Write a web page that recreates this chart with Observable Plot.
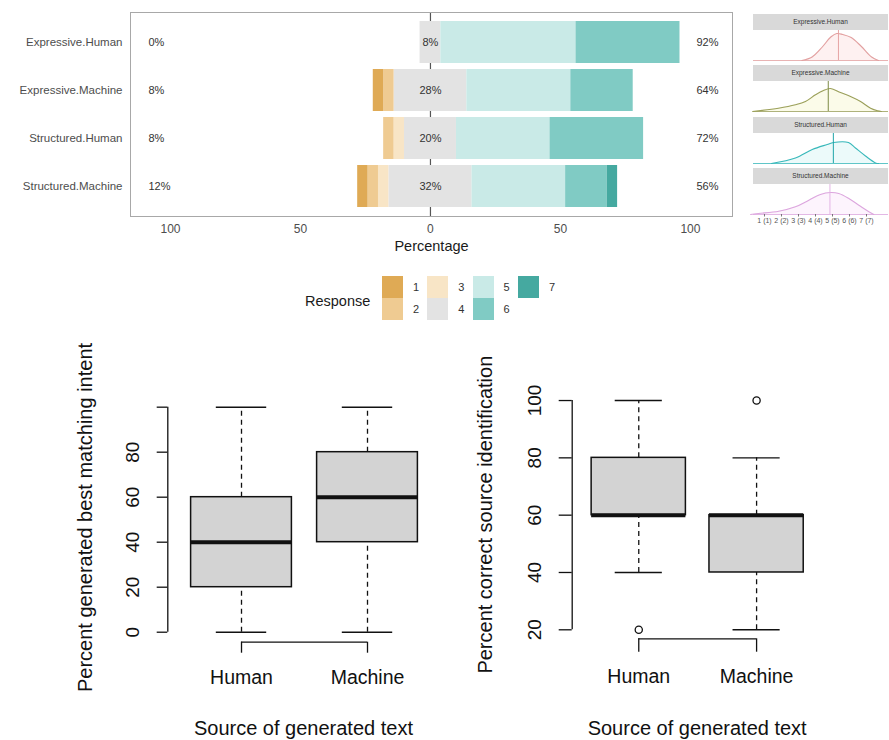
<!DOCTYPE html>
<html><head><meta charset="utf-8">
<script src="https://cdn.jsdelivr.net/npm/d3@7"></script>
<script src="https://cdn.jsdelivr.net/npm/@observablehq/plot@0.6"></script>
<style>
body{margin:0;background:#fff;font-family:"Liberation Sans",Arial,Helvetica,sans-serif;}
#root{position:relative;width:889px;height:740px;overflow:hidden;background:#fff;}
</style></head><body><div id="root"></div>
<script>
// ---------- Likert data (percent of respondents per response level) ----------
const groups = ["Expressive.Human", "Expressive.Machine", "Structured.Human", "Structured.Machine"];
const levels = ["1", "2", "3", "4", "5", "6", "7"];
const levelColors = ["#DFAA55", "#EFCB92", "#F8E5C6", "#E3E3E3", "#C9EAE7", "#80CBC4", "#45A9A0"];
const r1 = [0, 4, 0, 4];
const r2 = [0, 4, 4, 4];
const r3 = [0, 0, 4, 4];
const r4 = [8, 28, 20, 32];
const r5 = [52, 40, 36, 36];
const r6 = [40, 24, 36, 16];
const r7 = [0, 0, 0, 4];
const likertTicks = [-100, -50, 0, 50, 100];

// ---------- Density panels ----------
const ehDensX = [3.2, 3.8, 4.4, 4.9, 5.25, 5.6, 6.1, 6.7, 7.3, 7.7];
const ehDensY = [0, 0.07, 0.27, 0.47, 0.54, 0.52, 0.46, 0.28, 0.07, 0];
const emDensX = [0.3, 1.82, 2.82, 3.41, 4.0, 4.47, 4.88, 5.47, 6.06, 6.65, 7.24, 7.65, 7.88];
const emDensY = [0, 0.066, 0.134, 0.2, 0.334, 0.42, 0.46, 0.38, 0.3, 0.2, 0.066, 0.014, 0];
const shDensX = [1.41, 2.82, 3.81, 4.69, 5.06, 5.94, 6.35, 6.94, 7.53, 7.71];
const shDensY = [0, 0.11, 0.28, 0.38, 0.42, 0.42, 0.31, 0.15, 0.012, 0];
const smDensX = [0.18, 0.65, 1.84, 2.82, 3.61, 4.29, 4.88, 5.37, 5.96, 6.55, 7.14, 7.43];
const smDensY = [0, 0.02, 0.066, 0.154, 0.286, 0.4, 0.44, 0.42, 0.32, 0.186, 0.054, 0];
const densCenter = [5.35, 4.75, 5.05, 4.85];
const densTicks = [1, 2, 3, 4, 5, 6, 7];
const densTickLabels = ["1 (1)", "2 (2)", "3 (3)", "4 (4)", "5 (5)", "6 (6)", "7 (7)"];

// ---------- Box plot data ----------
const boxGroups = ["Human", "Machine"];
const intentMin = [0, 0], intentQ1 = [20, 40], intentMed = [40, 60], intentQ3 = [60, 80], intentMax = [100, 100];
const intentTicks = [0, 20, 40, 60, 80, 100];
const intentTickLabels = ["0", "20", "40", "60", "80", ""];
const sourceMin = [40, 20], sourceQ1 = [60, 40], sourceMed = [60, 60], sourceQ3 = [80, 60], sourceMax = [100, 80];
const sourceOutGroup = ["Human", "Machine"];
const sourceOutValue = [20, 100];
const sourceTicks = [20, 40, 60, 80, 100];
const sourceTickLabels = ["20", "40", "60", "80", "100"];

const FONT = '"Liberation Sans", Arial, Helvetica, sans-serif';
const root = document.getElementById("root");
function place(node, left, top) {
  node.style.position = "absolute";
  node.style.left = left + "px";
  node.style.top = top + "px";
  root.appendChild(node);
  return node;
}

// ---------- Main diverging likert chart ----------
const responses = [r1, r2, r3, r4, r5, r6, r7];
const segs = [];
groups.forEach((g, i) => {
  const n = r4[i];
  segs.push({group: g, level: "4", x1: -n / 2, x2: n / 2});
  let left = -n / 2;
  for (const k of [2, 1, 0]) {
    const v = responses[k][i];
    if (v > 0) segs.push({group: g, level: levels[k], x1: left - v, x2: left});
    left -= v;
  }
  let right = n / 2;
  for (const k of [4, 5, 6]) {
    const v = responses[k][i];
    if (v > 0) segs.push({group: g, level: levels[k], x1: right, x2: right + v});
    right += v;
  }
});
const summary = groups.map((g, i) => ({
  group: g,
  low: r1[i] + r2[i] + r3[i],
  neutral: r4[i],
  high: r5[i] + r6[i] + r7[i]
}));

const main = Plot.plot({
  width: 745, height: 256,
  marginLeft: 130, marginRight: 13, marginTop: 12, marginBottom: 40,
  x: {domain: [-115.4, 116.2]},
  y: {domain: groups, paddingInner: 0.12, paddingOuter: 0.15},
  color: {domain: levels, range: levelColors},
  style: {fontFamily: FONT, fontSize: "11.5px", color: "#4D4D4D", background: "transparent"},
  marks: [
    Plot.ruleX([0], {stroke: "#555", strokeWidth: 1.2}),
    Plot.barX(segs, {x1: "x1", x2: "x2", y: "group", fill: "level"}),
    Plot.frame({stroke: "#A8A8A8"}),
    Plot.axisY({tickSize: 0, tickPadding: 8, label: null, fontSize: 11.5}),
    Plot.axisX({ticks: likertTicks, tickSize: 0, tickPadding: 8, tickFormat: d => Math.abs(d), label: null, fontSize: 12}),
    Plot.text(["Percentage"], {text: d => d, frameAnchor: "bottom", lineAnchor: "middle", dy: 30, fontSize: 14.5, fill: "#1a1a1a"}),
    Plot.text(summary, {y: "group", text: d => d.low + "%", frameAnchor: "left", dx: 18, textAnchor: "start", fontSize: 11, fill: "#333"}),
    Plot.text(summary, {y: "group", x: 0, text: d => d.neutral + "%", fontSize: 11, fill: "#333"}),
    Plot.text(summary, {y: "group", text: d => d.high + "%", frameAnchor: "right", dx: -14, textAnchor: "end", fontSize: 11, fill: "#333"})
  ]
});
place(main, 0, 0);

// ---------- Legend ----------
const legendTitle = document.createElement("div");
legendTitle.textContent = "Response";
legendTitle.style.cssText = `font:14.5px ${FONT};color:#1a1a1a;line-height:18px;`;
place(legendTitle, 305, 292);
levels.forEach((lv, k) => {
  const col = Math.floor(k / 2), row = k % 2;
  const sw = document.createElement("div");
  sw.style.cssText = `width:21px;height:22px;background:${levelColors[k]};`;
  place(sw, 382 + col * 45.3, 276 + row * 22);
  const lab = document.createElement("div");
  lab.textContent = lv;
  lab.style.cssText = `font:11px ${FONT};color:#333;line-height:14px;`;
  place(lab, 382 + col * 45.3 + 31, 280 + row * 22);
});

// ---------- Density panels ----------
const densPanels = [
  {name: groups[0], xs: ehDensX, ys: ehDensY, c: densCenter[0], stroke: "#E2A0A0", fill: "#F8A0A0", vline: "#E6A3A3"},
  {name: groups[1], xs: emDensX, ys: emDensY, c: densCenter[1], stroke: "#9A9F5A", fill: "#E6E66A", vline: "#7C8A44"},
  {name: groups[2], xs: shDensX, ys: shDensY, c: densCenter[2], stroke: "#38B8BA", fill: "#7FDDE0", vline: "#1FA4A8"},
  {name: groups[3], xs: smDensX, ys: smDensY, c: densCenter[3], stroke: "#DCA6DE", fill: "#F0B8F2", vline: "#E3B5E5"}
];
densPanels.forEach((p, i) => {
  const stripTop = 14 + 51.3 * i;
  const strip = document.createElement("div");
  strip.textContent = p.name;
  strip.style.cssText = `width:135px;height:16px;background:#D9D9D9;font:6.5px ${FONT};color:#333;text-align:center;line-height:16px;`;
  place(strip, 753, stripTop);
  const last = i === densPanels.length - 1;
  const pts = p.xs.map((x, j) => ({x, y: p.ys[j]}));
  const marks = [
    Plot.areaY(pts, {x: "x", y: "y", curve: "catmull-rom", fill: p.fill, fillOpacity: 0.15}),
    Plot.ruleY([0], {stroke: p.stroke, strokeOpacity: 0.8}),
    Plot.lineY(pts, {x: "x", y: "y", curve: "catmull-rom", stroke: p.stroke, strokeWidth: 1.1}),
    Plot.ruleX([p.c], {stroke: p.vline, strokeWidth: 1})
  ];
  if (last) marks.push(Plot.axisX({ticks: densTicks, tickSize: 2.5, tickPadding: 1.5, tickFormat: d => densTickLabels[densTicks.indexOf(d)], fontSize: 7, label: null, stroke: "#777"}));
  const svg = Plot.plot({
    width: 144, height: 30 + (last ? 14 : 2),
    marginLeft: 8, marginRight: 1, marginTop: 0, marginBottom: last ? 14 : 2,
    x: {domain: [0.353, 8.294], ...(last ? {} : {axis: null})},
    y: {domain: [0, 0.6], axis: null},
    style: {fontFamily: FONT, color: "#555", background: "transparent", overflow: "visible"},
    marks
  });
  place(svg, 745, stripTop + 16);
});

// ---------- Box plots ----------
function boxPlot(cfg) {
  const rows = boxGroups.map((g, i) => ({pos: i + 1, min: cfg.mins[i], q1: cfg.q1s[i], med: cfg.meds[i], q3: cfg.q3s[i], max: cfg.maxs[i]}));
  const outs = cfg.outGroups.map((g, j) => ({pos: boxGroups.indexOf(g) + 1, v: cfg.outVals[j]}));
  const ink = "#111";
  return Plot.plot({
    width: cfg.width, height: cfg.height,
    marginLeft: cfg.marginLeft, marginRight: cfg.marginRight, marginTop: cfg.marginTop, marginBottom: cfg.marginBottom,
    x: {type: "linear", domain: cfg.xDomain},
    y: {domain: cfg.yDomain},
    style: {fontFamily: FONT, fontSize: "19.5px", color: ink, background: "transparent", overflow: "visible"},
    marks: [
      Plot.ruleX(rows, {x: "pos", y1: "q3", y2: "max", stroke: ink, strokeWidth: 1.3, strokeDasharray: "5,4"}),
      Plot.ruleX(rows, {x: "pos", y1: "min", y2: "q1", stroke: ink, strokeWidth: 1.3, strokeDasharray: "5,4"}),
      Plot.ruleY(rows, {y: "max", x1: d => d.pos - 0.2, x2: d => d.pos + 0.2, stroke: ink, strokeWidth: 1.4}),
      Plot.ruleY(rows, {y: "min", x1: d => d.pos - 0.2, x2: d => d.pos + 0.2, stroke: ink, strokeWidth: 1.4}),
      Plot.rect(rows, {x1: d => d.pos - 0.4, x2: d => d.pos + 0.4, y1: "q1", y2: "q3", fill: "#D3D3D3", stroke: ink, strokeWidth: 1.5}),
      Plot.ruleY(rows, {y: "med", x1: d => d.pos - 0.4, x2: d => d.pos + 0.4, stroke: ink, strokeWidth: 4}),
      Plot.dot(outs, {x: "pos", y: "v", r: 3.6, stroke: ink, fill: "white", strokeWidth: 1.3}),
      Plot.ruleX([cfg.xDomain[0]], {y1: cfg.yTicks[0], y2: cfg.yTicks[cfg.yTicks.length - 1], stroke: ink, strokeWidth: 1.3}),
      Plot.ruleY([cfg.yDomain[0]], {x1: 1, x2: boxGroups.length, stroke: ink, strokeWidth: 1.3}),
      Plot.axisY({ticks: cfg.yTicks, tickSize: cfg.yTickSize, tickRotate: -90, tickPadding: cfg.yTickPadding,
        tickFormat: d => cfg.yTickLabels[cfg.yTicks.indexOf(d)], label: null, fontSize: 19, strokeWidth: 1.3}),
      Plot.axisX({ticks: boxGroups.map((g, i) => i + 1), tickSize: cfg.xTickSize, tickPadding: 17,
        tickFormat: d => boxGroups[d - 1], label: null, fontSize: 19.5, strokeWidth: 1.3}),
      Plot.text([cfg.yTitle], {text: d => d, frameAnchor: "left", textAnchor: "middle", lineAnchor: "middle", rotate: -90, dx: cfg.yTitleDx, dy: cfg.yTitleDy, fontSize: 20, fill: ink}),
      Plot.text([cfg.xTitle], {text: d => d, frameAnchor: "bottom", textAnchor: "middle", lineAnchor: "middle", dx: cfg.xTitleDx, dy: cfg.xTitleDy, fontSize: 20, fill: ink})
    ]
  });
}

const leftBox = boxPlot({
  width: 380, height: 410, marginLeft: 107.3, marginRight: 10, marginTop: 67, marginBottom: 98.3,
  xDomain: [0.415, 2.5], yDomain: [-4.44, 104.3],
  mins: intentMin, q1s: intentQ1, meds: intentMed, q3s: intentQ3, maxs: intentMax,
  outGroups: [], outVals: [],
  yTicks: intentTicks, yTickLabels: intentTickLabels, yTickSize: 10.6, yTickPadding: 18, xTickSize: 11,
  yTitle: "Percent generated best matching intent", yTitleDx: -82.3, yTitleDy: -2.4,
  xTitle: "Source of generated text", xTitleDx: 4.3, xTitleDy: 86.3
});
place(leftBox, 60, 330);

const rightBox = boxPlot({
  width: 419, height: 410, marginLeft: 101.7, marginRight: 74, marginTop: 60, marginBottom: 101.7,
  xDomain: [0.435, 2.5], yDomain: [16.86, 103.5],
  mins: sourceMin, q1s: sourceQ1, meds: sourceMed, q3s: sourceQ3, maxs: sourceMax,
  outGroups: sourceOutGroup, outVals: sourceOutValue,
  yTicks: sourceTicks, yTickLabels: sourceTickLabels, yTickSize: 13, yTickPadding: 18, xTickSize: 13.4,
  yTitle: "Percent correct source identification", yTitleDx: -86.7, yTitleDy: 0,
  xTitle: "Source of generated text", xTitleDx: 3.3, xTitleDy: 89.7
});
place(rightBox, 470, 330);
</script></body></html>
